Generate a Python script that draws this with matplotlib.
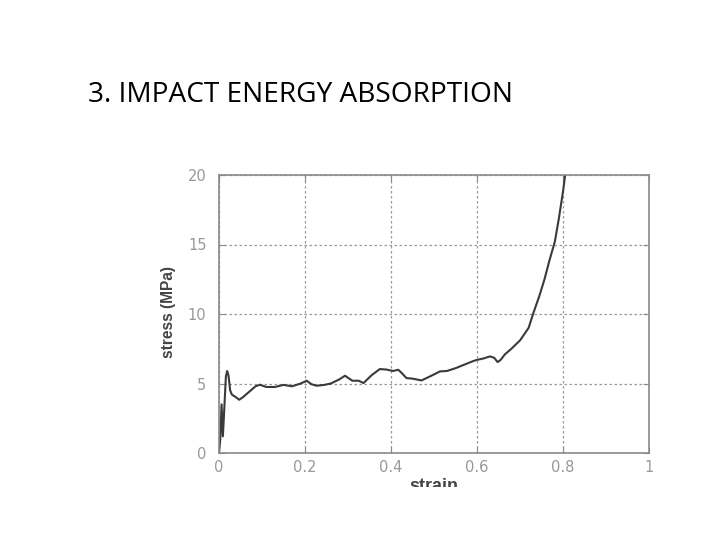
import matplotlib
matplotlib.use("Agg")
import matplotlib.pyplot as plt
from matplotlib.transforms import Bbox

title = "3. IMPACT ENERGY ABSORPTION"
x_label = "strain"
y_label = "stress (MPa)"
x_ticks = [0, 0.2, 0.4, 0.6, 0.8, 1.0]
x_tick_labels = ["0", "0.2", "0.4", "0.6", "0.8", "1"]
y_ticks = [0, 5, 10, 15, 20]
y_tick_labels = ["0", "5", "10", "15", "20"]

strain = [0.0, 0.003, 0.006, 0.009, 0.012, 0.016, 0.019, 0.022, 0.026, 0.03, 0.04,
          0.047, 0.055, 0.07, 0.085, 0.095, 0.11, 0.13, 0.15, 0.17, 0.19, 0.204,
          0.215, 0.227, 0.245, 0.26, 0.28, 0.293, 0.31, 0.325, 0.336, 0.355, 0.374,
          0.39, 0.405, 0.417, 0.425, 0.436, 0.45, 0.471, 0.49, 0.514, 0.53, 0.55,
          0.57, 0.59, 0.60, 0.615, 0.63, 0.64, 0.648, 0.655, 0.665, 0.68, 0.70,
          0.72, 0.731, 0.745, 0.757, 0.768, 0.781, 0.79, 0.80, 0.805]
stress = [0.0, 1.0, 3.5, 1.2, 3.0, 5.5, 5.9, 5.6, 4.5, 4.2, 4.0,
          3.83, 4.0, 4.4, 4.8, 4.91, 4.75, 4.75, 4.9, 4.8, 5.0, 5.2,
          4.95, 4.84, 4.9, 5.0, 5.3, 5.56, 5.2, 5.2, 5.03, 5.6, 6.04,
          6.0, 5.9, 5.99, 5.75, 5.39, 5.35, 5.22, 5.5, 5.87, 5.9, 6.1,
          6.35, 6.6, 6.7, 6.8, 6.95, 6.85, 6.54, 6.7, 7.1, 7.5, 8.1,
          9.0, 10.06, 11.3, 12.5, 13.8, 15.2, 16.8, 18.8, 20.0]

fig = plt.figure(figsize=(7.2, 5.4), dpi=100)
fig.patch.set_facecolor("white")

fig.text(88 / 720, 1 - 95 / 540, title, fontsize=20.2, family="Open Sans",
         ha="left", va="center", color="black")

ax = fig.add_axes([219 / 720, 1 - 453 / 540, 430 / 720, 278 / 540])
ax.plot(strain, stress, color="#3a3a3a", lw=1.5)
ax.set_xlim(0, 1)
ax.set_ylim(0, 20)
ax.set_xticks(x_ticks)
ax.set_xticklabels(x_tick_labels)
ax.set_yticks(y_ticks)
ax.set_yticklabels(y_tick_labels)
ax.grid(True, color="#999999", linestyle=(0, (2, 2)), lw=0.9)
for s in ax.spines.values():
    s.set_color("#8a8a8a")
    s.set_linewidth(1.2)
ax.tick_params(direction="in", length=4, color="#8a8a8a", labelcolor="#999999",
               labelsize=10.5, top=True, right=True)
ax.tick_params(axis="x", pad=5)
ax.tick_params(axis="y", pad=9)
for lab in ax.get_xticklabels() + ax.get_yticklabels():
    lab.set_family("DejaVu Sans")

fig.text(168 / 720, 1 - 312 / 540, y_label, rotation=90, fontsize=11.2,
         fontweight="bold", family="Liberation Sans", color="#444444",
         ha="center", va="center")

t = fig.text(434 / 720, 1 - 478 / 540, x_label, fontsize=13, fontweight="bold",
             family="Liberation Sans", color="#444444", ha="center", va="top")
t.set_clip_on(True)
t.set_clip_box(Bbox.from_extents(300, 540 - 487, 600, 540 - 470))

fig.savefig("out.png", dpi=100, facecolor="white")
